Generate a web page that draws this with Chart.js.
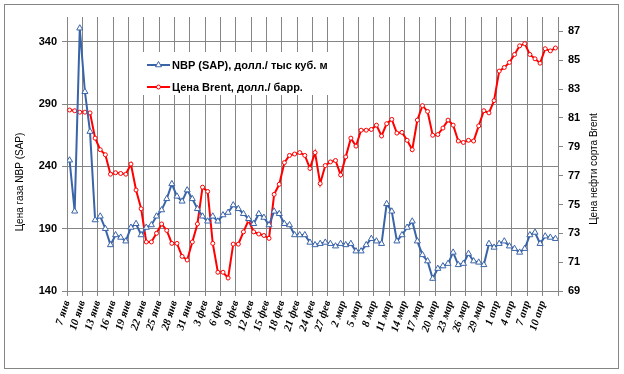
<!DOCTYPE html>
<html>
<head>
<meta charset="utf-8">
<script src="https://cdn.jsdelivr.net/npm/chart.js@4/dist/chart.umd.min.js"></script>
<style>
  body { margin: 0; background: #fff; }
</style>
</head>
<body>
<canvas id="gasChart" width="624" height="374"></canvas>
<script>
// Tick labels on the date axis, one every 3 days starting 7 Jan
const tickLabels = ['7 янв', '10 янв', '13 янв', '16 янв', '19 янв', '22 янв', '25 янв', '28 янв', '31 янв',
    '3 фев', '6 фев', '9 фев', '12 фев', '15 фев', '18 фев', '21 фев', '24 фев', '27 фев',
    '2 мар', '5 мар', '8 мар', '11 мар', '14 мар', '17 мар', '20 мар', '23 мар', '26 мар', '29 мар',
    '1 апр', '4 апр', '7 апр', '10 апр'];
const leftTicks = [140, 190, 240, 290, 340];
const rightTicks = [69, 71, 73, 75, 77, 79, 81, 83, 85, 87];

// Daily values, 7 Jan .. 12 Apr
const nbp = [245, 204, 351, 300, 268, 197, 200, 190, 177, 185,
    183, 180, 191, 194, 185, 191, 193, 200, 205, 214,
    226, 216, 212, 221, 214, 206, 200, 196, 200, 196,
    201, 203, 209, 206, 202, 198, 194, 202, 199, 193,
    204, 202, 194, 193, 185, 185, 185, 179, 177, 178,
    179, 178, 176, 178, 177, 178, 172, 172, 177, 182,
    180, 178, 210, 204, 180, 185, 191, 196, 180, 169,
    164, 150, 158, 160, 162, 171, 161, 162, 170, 164,
    163, 161, 178, 175, 178, 180, 176, 174, 171, 174,
    185, 187, 178, 184, 183, 182];
const brent = [81.55, 81.5, 81.4, 81.4, 81.35, 79.6, 78.8, 78.45, 77.1, 77.2,
    77.15, 77.1, 77.8, 76.0, 74.7, 72.4, 72.4, 73.0, 73.65, 73.2,
    72.3, 72.3, 71.4, 71.15, 72.4, 73.65, 76.2, 75.9, 72.3, 70.3,
    70.3, 69.9, 72.25, 72.25, 73.1, 73.9, 73.1, 72.95, 72.85, 72.65,
    75.7, 76.4, 77.9, 78.4, 78.5, 78.6, 78.4, 77.5, 78.6, 76.45,
    77.7, 77.95, 78.05, 77.05, 78.3, 79.6, 79.05, 80.15, 80.15, 80.2,
    80.5, 79.75, 80.6, 80.9, 79.95, 80.0, 79.45, 78.8, 80.85, 81.85,
    81.45, 79.8, 79.85, 80.3, 80.85, 80.5, 79.4, 79.3, 79.45, 79.4,
    80.45, 81.5, 81.35, 82.2, 84.25, 84.5, 84.85, 85.4, 86.0, 86.15,
    85.4, 85.1, 84.8, 85.8, 85.65, 85.85];

const blue = '#3A64A8';
const red = '#FF0000';
const gridGray = '#858585';

// each day sits in the middle of its slot, like Excel's date axis
function toPoints(values) {
    return values.map((v, i) => ({ x: i + 0.5, y: v }));
}

const frameAndText = {
    id: 'frameAndText',
    afterDatasetsDraw(chart) {
        const ctx = chart.ctx;
        ctx.save();
        // legend box
        ctx.fillStyle = '#fff';
        ctx.fillRect(137, 52, 192, 43);
        const rows = [
            { label: 'NBP (SAP), долл./ тыс куб. м', color: blue, y: 65, style: 'triangle' },
            { label: 'Цена Brent, долл./ барр.', color: red, y: 87, style: 'circle' }
        ];
        rows.forEach(r => {
            ctx.strokeStyle = r.color;
            ctx.lineWidth = 2;
            ctx.beginPath();
            ctx.moveTo(147, r.y);
            ctx.lineTo(170, r.y);
            ctx.stroke();
            ctx.fillStyle = '#fff';
            ctx.lineWidth = 1;
            Chart.helpers.drawPoint(ctx, { pointStyle: r.style, radius: r.style === 'triangle' ? 3.5 : 2, borderWidth: 1 }, 158.5, r.y);
            ctx.fillStyle = '#000';
            ctx.font = 'bold 11px "Liberation Sans", Arial, sans-serif';
            ctx.textAlign = 'left';
            ctx.textBaseline = 'middle';
            ctx.fillText(r.label, 172, r.y + 1);
        });
        ctx.restore();
    },
    afterDraw(chart) {
        const ctx = chart.ctx;
        ctx.save();
        ctx.strokeStyle = gridGray;
        ctx.lineWidth = 1;
        ctx.strokeRect(4.5, 4.5, 614, 364);
        ctx.fillStyle = '#000';
        ctx.font = '10px "Liberation Sans", Arial, sans-serif';
        ctx.textAlign = 'center';
        ctx.textBaseline = 'middle';
        // both titles read bottom to top
        ctx.translate(20, 182);
        ctx.rotate(-Math.PI / 2);
        ctx.fillText('Цена газа NBP (SAP)', 0, 0);
        ctx.restore();
        ctx.save();
        ctx.fillStyle = '#000';
        ctx.font = '10px "Liberation Sans", Arial, sans-serif';
        ctx.textAlign = 'center';
        ctx.textBaseline = 'middle';
        ctx.translate(594, 169);
        ctx.rotate(-Math.PI / 2);
        ctx.fillText('Цена нефти сорта Brent', 0, 0);
        ctx.restore();
    }
};

const tickFont = { family: '"Liberation Sans", Arial, sans-serif', size: 11, weight: 'bold' };

new Chart(document.getElementById('gasChart').getContext('2d'), {
    type: 'line',
    data: {
        datasets: [
            {
                label: 'NBP (SAP), долл./ тыс куб. м',
                data: toPoints(nbp),
                yAxisID: 'y',
                borderColor: blue,
                borderWidth: 2,
                pointStyle: 'triangle',
                pointRadius: 3.5,
                pointBorderWidth: 1,
                pointBackgroundColor: '#fff',
                pointBorderColor: blue,
                tension: 0
            },
            {
                label: 'Цена Brent, долл./ барр.',
                data: toPoints(brent),
                yAxisID: 'y1',
                borderColor: red,
                borderWidth: 2,
                pointStyle: 'circle',
                pointRadius: 2,
                pointBorderWidth: 1,
                pointBackgroundColor: '#fff',
                pointBorderColor: red,
                tension: 0
            }
        ]
    },
    options: {
        responsive: false,
        animation: false,
        devicePixelRatio: 1,
        layout: { padding: { top: 17, left: 0, right: 0, bottom: 0 } },
        plugins: {
            legend: { display: false },
            tooltip: { enabled: false }
        },
        scales: {
            x: {
                type: 'linear',
                min: 0,
                max: 96,
                afterBuildTicks: function(scale) {
                    scale.ticks = tickLabels.map((t, i) => ({ value: i * 3 })).concat([{ value: 96 }]);
                },
                afterFit: function(scale) { scale.height = 83; },
                grid: { color: gridGray, tickLength: 5, lineWidth: 1 },
                border: { color: gridGray },
                ticks: {
                    autoSkip: false,
                    maxRotation: 72,
                    minRotation: 72,
                    padding: 3,
                    color: '#000',
                    font: { family: '"Liberation Serif", "Times New Roman", serif', size: 11, weight: 'bold', style: 'italic' },
                    callback: function(value) {
                        return tickLabels[Math.round(value / 3)] || '';
                    }
                }
            },
            y: {
                position: 'left',
                min: 140,
                max: 360,
                afterBuildTicks: function(scale) {
                    scale.ticks = leftTicks.map(v => ({ value: v }));
                },
                afterFit: function(scale) { scale.width = 67; },
                grid: { color: gridGray, tickLength: 5 },
                border: { color: gridGray },
                ticks: { color: '#000', padding: 5, font: tickFont }
            },
            y1: {
                position: 'right',
                min: 69,
                max: 88,
                afterBuildTicks: function(scale) {
                    scale.ticks = rightTicks.map(v => ({ value: v }));
                },
                afterFit: function(scale) { scale.width = 66; },
                grid: { color: gridGray, tickLength: 5, drawOnChartArea: false },
                border: { color: gridGray },
                ticks: { color: '#000', padding: 5, font: tickFont }
            }
        }
    },
    plugins: [frameAndText]
});
</script>
</body>
</html>
